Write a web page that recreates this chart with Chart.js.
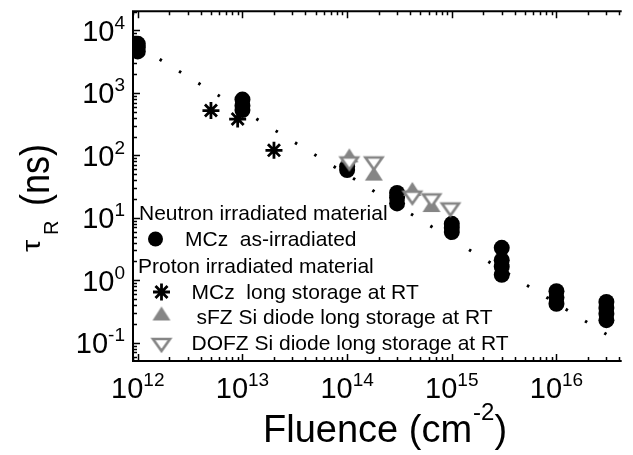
<!DOCTYPE html>
<html>
<head>
<meta charset="utf-8">
<script src="https://cdn.jsdelivr.net/npm/chart.js"></script>
<style>
  html, body { margin: 0; padding: 0; background: #fff; }
  #wrap { width: 633px; height: 455px; }
</style>
</head>
<body>
<div id="wrap"><canvas id="chart" width="633" height="455"></canvas></div>
<script>
// Neutron irradiated MCz, as-irradiated
const neutronMczFluence = [1e12, 1e12, 1e12, 1e13, 1e13, 1e13, 1e14, 1e14, 3e14, 3e14, 3e14,
  1e15, 1e15, 1e15, 3e15, 3e15, 3e15, 3e15, 1e16, 1e16, 1e16, 3e16, 3e16, 3e16, 3e16];
const neutronMczTau = [6100, 5300, 4600, 780, 620, 530, 66, 58, 25, 21, 17,
  8.0, 6.9, 5.9, 3.3, 2.1, 1.65, 1.22, 0.67, 0.53, 0.42, 0.45, 0.36, 0.29, 0.23];

// Proton irradiated, long storage at RT
const protonMczFluence = [5e12, 9e12, 2e13];
const protonMczTau = [520, 380, 120];
const sfzFluence = [1.05e14, 1.8e14, 4.2e14, 6.4e14];
const sfzTau = [100, 51, 29, 16];
const dofzFluence = [1.05e14, 1.8e14, 4.2e14, 6.4e14, 9.7e14];
const dofzTau = [74, 74, 21, 19, 13.6];

// dotted power-law guide line (end points)
const fitFluence = [1e12, 3e16];
const fitTau = [5650, 0.137];

const xTickValues = [1e12, 1e13, 1e14, 1e15, 1e16];
const xTickExponents = ['12', '13', '14', '15', '16'];
const yTickValues = [1e-1, 1, 1e1, 1e2, 1e3, 1e4];
const yTickExponents = ['-1', '0', '1', '2', '3', '4'];

const FONT = "'Liberation Sans', Arial, sans-serif";
const GRAY = '#858585';

function toPoints(xs, ys) {
  return xs.map((x, i) => ({ x: x, y: ys[i] }));
}

// Origin-style flat triangles as small canvases
function makeTriangle(down) {
  const c = document.createElement('canvas');
  c.width = 26; c.height = 22;
  const g = c.getContext('2d');
  g.beginPath();
  if (down) {
    g.moveTo(4.5, 5); g.lineTo(21.5, 5); g.lineTo(13, 17);
    g.closePath();
    g.fillStyle = '#fff';
    g.fill();
    g.lineWidth = 2.6;
    g.strokeStyle = GRAY;
    g.stroke();
  } else {
    g.moveTo(4, 18); g.lineTo(22, 18); g.lineTo(13, 4);
    g.closePath();
    g.fillStyle = GRAY;
    g.fill();
  }
  return c;
}
const upTriangle = makeTriangle(false);
const downTriangle = makeTriangle(true);

function minorTicks(scale) {
  const out = [];
  const lo = Math.floor(Math.log10(scale.min));
  const hi = Math.ceil(Math.log10(scale.max));
  for (let d = lo; d <= hi; d++) {
    for (let m = 1; m <= 9; m++) {
      const v = m * Math.pow(10, d);
      if (v >= scale.min && v <= scale.max) out.push({ v: v, major: m === 1 });
    }
  }
  return out;
}

const frame = {
  id: 'frame',
  afterDatasetsDraw(chart) {
    const { ctx, chartArea: a, scales: { x, y } } = chart;
    ctx.save();
    ctx.strokeStyle = '#000';
    ctx.lineWidth = 2;
    ctx.beginPath();
    ctx.moveTo(a.right, a.top); ctx.lineTo(a.left, a.top);
    ctx.lineTo(a.left, a.bottom); ctx.lineTo(a.right, a.bottom);
    ctx.stroke();

    // inward ticks: bottom + top, left
    ctx.lineWidth = 1.5;
    ctx.beginPath();
    minorTicks(x).forEach(t => {
      const px = Math.round(x.getPixelForValue(t.v)) + 0.5;
      const len = t.major ? 7 : 4;
      ctx.moveTo(px, a.bottom); ctx.lineTo(px, a.bottom - len);
      ctx.moveTo(px, a.top); ctx.lineTo(px, a.top + len);
    });
    minorTicks(y).forEach(t => {
      const py = Math.round(y.getPixelForValue(t.v)) + 0.5;
      const len = t.major ? 7 : 4;
      ctx.moveTo(a.left, py); ctx.lineTo(a.left + len, py);
    });
    ctx.stroke();

    // tick labels 10^n
    ctx.fillStyle = '#000';
    ctx.textAlign = 'left';
    ctx.textBaseline = 'alphabetic';
    ctx.font = '29px ' + FONT;
    const baseW = ctx.measureText('10').width;
    xTickValues.forEach((v, i) => {
      ctx.font = '19px ' + FONT;
      const supW = ctx.measureText(xTickExponents[i]).width;
      const px = x.getPixelForValue(v);
      const left = px - (baseW + supW) / 2;
      ctx.font = '29px ' + FONT;
      ctx.fillText('10', left, 398);
      ctx.font = '19px ' + FONT;
      ctx.fillText(xTickExponents[i], left + baseW, 386);
    });
    yTickValues.forEach((v, i) => {
      ctx.font = '19px ' + FONT;
      const supW = ctx.measureText(yTickExponents[i]).width;
      const py = y.getPixelForValue(v);
      const right = a.left - 8;
      ctx.font = '29px ' + FONT;
      ctx.fillText('10', right - supW - baseW, py + 10.4);
      ctx.font = '19px ' + FONT;
      ctx.fillText(yTickExponents[i], right - supW, py - 1.6);
    });

    // x title
    ctx.font = '38px ' + FONT;
    let tx = 263;
    ctx.fillText('Fluence (cm', tx, 441.5);
    tx += ctx.measureText('Fluence (cm').width;
    ctx.font = '24px ' + FONT;
    ctx.fillText('-2', tx + 1, 420);
    tx += ctx.measureText('-2').width + 1;
    ctx.font = '38px ' + FONT;
    ctx.fillText(')', tx, 441.5);

    // y title, rotated
    ctx.save();
    ctx.translate(40, 252);
    ctx.rotate(-Math.PI / 2);
    ctx.scale(1.2, 1);
    ctx.font = '26px ' + FONT;
    ctx.fillText('\u03c4', 0, 0);
    ctx.restore();
    ctx.save();
    ctx.translate(58, 235);
    ctx.rotate(-Math.PI / 2);
    ctx.font = '20px ' + FONT;
    ctx.fillText('R', 0, 0);
    ctx.restore();
    ctx.save();
    ctx.translate(49, 206);
    ctx.rotate(-Math.PI / 2);
    ctx.scale(1, 1.12);
    ctx.font = '36px ' + FONT;
    ctx.fillText('(ns)', 0, 0);
    ctx.restore();

    // legend
    const H = Chart.helpers;
    ctx.font = '21px ' + FONT;
    ctx.fillText('Neutron irradiated material', 139, 220);
    ctx.fillStyle = '#000';
    H.drawPoint(ctx, { pointStyle: 'circle', radius: 7.5, rotation: 0, borderWidth: 0 }, 155.5, 239);
    ctx.fillText('MCz  as-irradiated', 185, 246);
    ctx.fillText('Proton irradiated material', 138, 273);
    ctx.strokeStyle = '#000';
    ctx.lineWidth = 2.8;
    H.drawPoint(ctx, { pointStyle: 'star', radius: 8.5, rotation: 0, borderWidth: 2.8 }, 161.5, 292);
    ctx.fillText('MCz  long storage at RT', 191.5, 298.5);
    H.drawPoint(ctx, { pointStyle: upTriangle, radius: 8, rotation: 0 }, 161.5, 313.5);
    ctx.fillText('sFZ Si diode long storage at RT', 196.5, 323.5);
    H.drawPoint(ctx, { pointStyle: downTriangle, radius: 8, rotation: 0 }, 161.5, 345);
    ctx.fillText('DOFZ Si diode long storage at RT', 191.5, 350);
    ctx.restore();
  }
};

new Chart(document.getElementById('chart'), {
  type: 'scatter',
  data: {
    datasets: [
      {
        label: 'fit',
        data: toPoints(fitFluence, fitTau),
        showLine: true,
        borderColor: '#000',
        borderWidth: 3,
        borderDash: [2.5, 20.2],
        borderDashOffset: 19.7,
        pointRadius: 0,
        order: 5,
        clip: 0
      },
      {
        label: 'MCz  as-irradiated',
        data: toPoints(neutronMczFluence, neutronMczTau),
        pointStyle: 'circle',
        pointRadius: 8,
        backgroundColor: '#000',
        borderWidth: 0,
        order: 4,
        clip: 0
      },
      {
        label: 'MCz  long storage at RT',
        data: toPoints(protonMczFluence, protonMczTau),
        pointStyle: 'star',
        pointRadius: 8.5,
        borderColor: '#000',
        borderWidth: 2.8,
        order: 3,
        clip: 0
      },
      {
        label: 'sFZ Si diode long storage at RT',
        data: toPoints(sfzFluence, sfzTau),
        pointStyle: upTriangle,
        order: 2,
        clip: 0
      },
      {
        label: 'DOFZ Si diode long storage at RT',
        data: toPoints(dofzFluence, dofzTau),
        pointStyle: downTriangle,
        order: 1,
        clip: 0
      }
    ]
  },
  options: {
    responsive: false,
    animation: false,
    devicePixelRatio: 1,
    layout: { padding: { left: 133, right: 0, top: 5, bottom: 94 } },
    plugins: { legend: { display: false }, tooltip: { enabled: false } },
    scales: {
      x: { type: 'logarithmic', min: 9.0e11, max: 4.2e16, display: false },
      y: { type: 'logarithmic', min: 0.051, max: 20200, display: false }
    }
  },
  plugins: [frame]
});
</script>
</body>
</html>
